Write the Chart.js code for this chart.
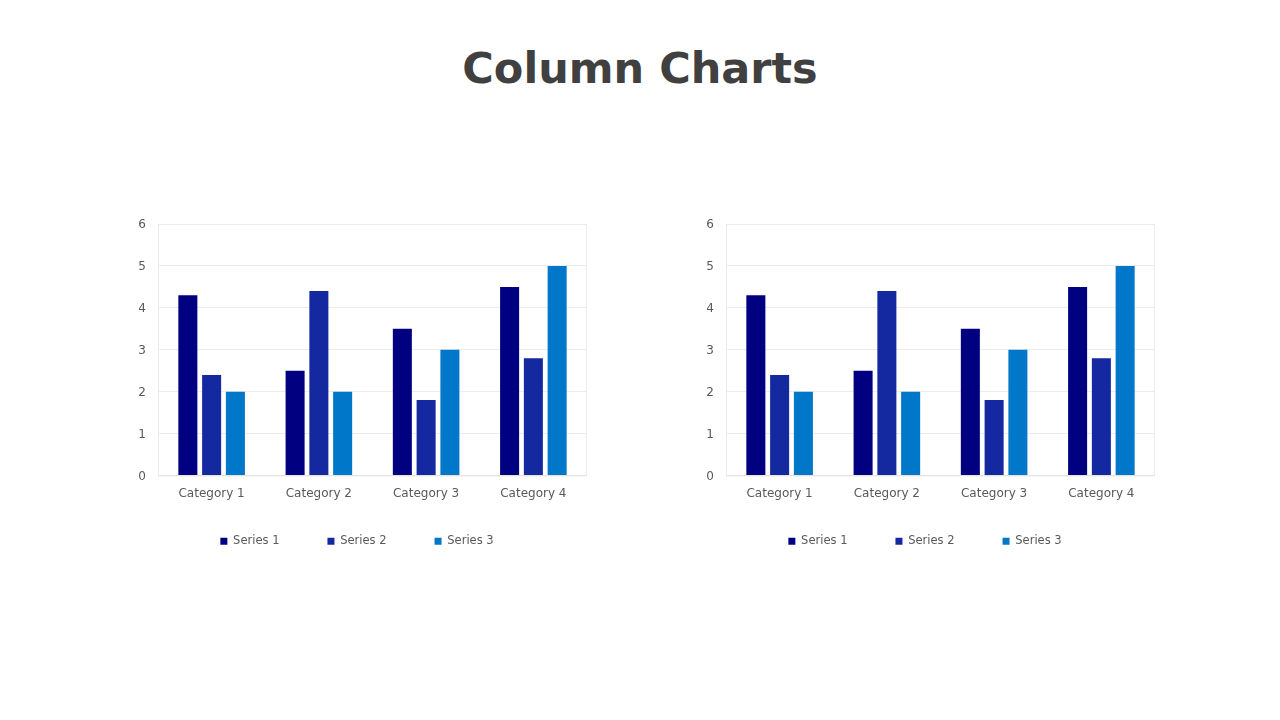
<!DOCTYPE html>
<html>
<head>
<meta charset="utf-8">
<script src="https://cdn.jsdelivr.net/npm/chart.js@4"></script>
<style>
  html, body { margin: 0; padding: 0; background: #fff; }
  body { width: 1280px; height: 720px; position: relative; overflow: hidden; }
  .title {
    position: absolute; left: 0; top: 43px; width: 1280px; text-align: center;
    font-family: "DejaVu Sans", sans-serif; font-weight: bold; font-size: 43px;
    color: #404040;
  }
  .box { position: absolute; top: 200px; width: 460px; height: 375px; }
</style>
</head>
<body>
<div class="title">Column Charts</div>
<div class="box" style="left:127px"><canvas id="chartLeft"></canvas></div>
<div class="box" style="left:695px"><canvas id="chartRight"></canvas></div>
<script>
const categories = ['Category 1', 'Category 2', 'Category 3', 'Category 4'];
const series1 = [4.3, 2.5, 3.5, 4.5];
const series2 = [2.4, 4.4, 1.8, 2.8];
const series3 = [2, 2, 3, 5];
const seriesNames = ['Series 1', 'Series 2', 'Series 3'];
const colors = ['#000080', '#1428A0', '#0077C8'];

const X_AXIS_H = 30;
const LEGEND_PAD = 48;
// legend row should sit 66px under the plot bottom, pull it up by the surplus
const LEGEND_SHIFT = X_AXIS_H + LEGEND_PAD + 6 - 66;

// light frame round the plot area, and the legend nudge
const frame = {
  id: 'frame',
  afterLayout(chart) {
    chart.legend.top -= LEGEND_SHIFT;
    chart.legend.bottom -= LEGEND_SHIFT;
  },
  beforeDatasetsDraw(chart) {
    const { ctx, chartArea: a } = chart;
    ctx.save();
    ctx.strokeStyle = '#ececec';
    ctx.lineWidth = 1;
    ctx.strokeRect(a.left + 0.5, a.top + 0.5, a.right - a.left - 1, a.bottom - a.top);
    ctx.restore();
  }
};

function makeChart(id) {
  const ctx = document.getElementById(id).getContext('2d');
  return new Chart(ctx, {
    type: 'bar',
    data: {
      labels: categories,
      datasets: [series1, series2, series3].map((d, i) => ({
        label: seriesNames[i],
        data: d,
        backgroundColor: colors[i],
        categoryPercentage: 0.665,
        barPercentage: 0.8,
      })),
    },
    options: {
      responsive: true,
      maintainAspectRatio: false,
      animation: false,
      layout: { padding: { top: 24, right: 0, bottom: 0, left: 0 } },
      scales: {
        x: {
          grid: { display: false, drawTicks: false },
          border: { color: '#d9d9d9' },
          ticks: { color: '#595959', font: { family: 'DejaVu Sans', size: 12 }, padding: 11 },
          afterFit: (s) => { s.height = X_AXIS_H; },
        },
        y: {
          min: 0, max: 6,
          grid: { color: '#ececec', drawTicks: false },
          border: { display: false },
          ticks: { stepSize: 1, color: '#595959', font: { family: 'DejaVu Sans', size: 12 }, padding: 12, labelOffset: 1 },
          afterFit: (s) => { s.width = 31; },
        },
      },
      plugins: {
        legend: {
          position: 'bottom',
          labels: {
            boxWidth: 7, boxHeight: 7, padding: LEGEND_PAD,
            color: '#595959', font: { family: 'DejaVu Sans', size: 11.5 },
          },
        },
        tooltip: { enabled: false },
      },
    },
    plugins: [frame],
  });
}

makeChart('chartLeft');
makeChart('chartRight');
</script>
</body>
</html>
